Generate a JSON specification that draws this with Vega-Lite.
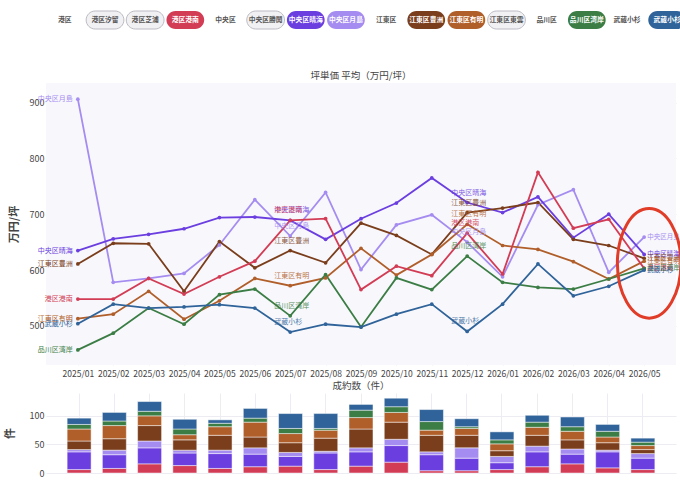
{
"$schema":"https://vega.github.io/schema/vega-lite/v6.json",
"background":"white","padding":{"left":4,"right":2,"top":8,"bottom":0},
"config":{"font":"Noto Sans CJK JP","view":{"stroke":null},"axis":{"labelColor":"#444","titleColor":"#444","labelFontSize":9,"gridColor":"#ececf2","domain":false,"ticks":false},"title":{"fontSize":9.5,"fontWeight":"normal","color":"#444","offset":3}},
"datasets":{
"chips":[
{"i":1,"t":"港区","kind":"label"},{"i":2,"t":"港区汐留","kind":"off"},{"i":3,"t":"港区芝浦","kind":"off"},{"i":4,"t":"港区港南","kind":"on","c":"#d23c55"},
{"i":5,"t":"中央区","kind":"label"},{"i":6,"t":"中央区勝鬨","kind":"off"},{"i":7,"t":"中央区晴海","kind":"on","c":"#6b3ee0"},{"i":8,"t":"中央区月島","kind":"on","c":"#a58cf0"},
{"i":9,"t":"江東区","kind":"label"},{"i":10,"t":"江東区豊洲","kind":"on","c":"#7a3e1c"},{"i":11,"t":"江東区有明","kind":"on","c":"#b05e2a"},{"i":12,"t":"江東区東雲","kind":"off"},
{"i":13,"t":"品川区","kind":"label"},{"i":14,"t":"品川区湾岸","kind":"on","c":"#3b7d45"},{"i":15,"t":"武蔵小杉","kind":"label"},{"i":16,"t":"武蔵小杉","kind":"on","c":"#2f6399"}],
"ann":[{"m":"2026/05","v":612}],
"lines":[
{"s":"中央区月島","m":"2025/01","v":906},{"s":"中央区月島","m":"2025/02","v":578},{"s":"中央区月島","m":"2025/03","v":585},{"s":"中央区月島","m":"2025/04","v":594},{"s":"中央区月島","m":"2025/05","v":645},{"s":"中央区月島","m":"2025/06","v":726},{"s":"中央区月島","m":"2025/07","v":661},{"s":"中央区月島","m":"2025/08","v":739},{"s":"中央区月島","m":"2025/09","v":601},{"s":"中央区月島","m":"2025/10","v":681},{"s":"中央区月島","m":"2025/11","v":699},{"s":"中央区月島","m":"2025/12","v":650},{"s":"中央区月島","m":"2026/01","v":588},{"s":"中央区月島","m":"2026/02","v":717},{"s":"中央区月島","m":"2026/03","v":744},{"s":"中央区月島","m":"2026/04","v":596},{"s":"中央区月島","m":"2026/05","v":659},
{"s":"中央区晴海","m":"2025/01","v":635},{"s":"中央区晴海","m":"2025/02","v":656},{"s":"中央区晴海","m":"2025/03","v":664},{"s":"中央区晴海","m":"2025/04","v":674},{"s":"中央区晴海","m":"2025/05","v":694},{"s":"中央区晴海","m":"2025/06","v":695},{"s":"中央区晴海","m":"2025/07","v":689},{"s":"中央区晴海","m":"2025/08","v":655},{"s":"中央区晴海","m":"2025/09","v":692},{"s":"中央区晴海","m":"2025/10","v":720},{"s":"中央区晴海","m":"2025/11","v":765},{"s":"中央区晴海","m":"2025/12","v":721},{"s":"中央区晴海","m":"2026/01","v":703},{"s":"中央区晴海","m":"2026/02","v":731},{"s":"中央区晴海","m":"2026/03","v":658},{"s":"中央区晴海","m":"2026/04","v":700},{"s":"中央区晴海","m":"2026/05","v":628},
{"s":"江東区豊洲","m":"2025/01","v":611},{"s":"江東区豊洲","m":"2025/02","v":648},{"s":"江東区豊洲","m":"2025/03","v":647},{"s":"江東区豊洲","m":"2025/04","v":562},{"s":"江東区豊洲","m":"2025/05","v":651},{"s":"江東区豊洲","m":"2025/06","v":604},{"s":"江東区豊洲","m":"2025/07","v":635},{"s":"江東区豊洲","m":"2025/08","v":613},{"s":"江東区豊洲","m":"2025/09","v":684},{"s":"江東区豊洲","m":"2025/10","v":662},{"s":"江東区豊洲","m":"2025/11","v":628},{"s":"江東区豊洲","m":"2025/12","v":703},{"s":"江東区豊洲","m":"2026/01","v":711},{"s":"江東区豊洲","m":"2026/02","v":721},{"s":"江東区豊洲","m":"2026/03","v":655},{"s":"江東区豊洲","m":"2026/04","v":644},{"s":"江東区豊洲","m":"2026/05","v":621},
{"s":"江東区有明","m":"2025/01","v":513},{"s":"江東区有明","m":"2025/02","v":521},{"s":"江東区有明","m":"2025/03","v":562},{"s":"江東区有明","m":"2025/04","v":512},{"s":"江東区有明","m":"2025/05","v":545},{"s":"江東区有明","m":"2025/06","v":585},{"s":"江東区有明","m":"2025/07","v":572},{"s":"江東区有明","m":"2025/08","v":586},{"s":"江東区有明","m":"2025/09","v":639},{"s":"江東区有明","m":"2025/10","v":591},{"s":"江東区有明","m":"2025/11","v":628},{"s":"江東区有明","m":"2025/12","v":682},{"s":"江東区有明","m":"2026/01","v":644},{"s":"江東区有明","m":"2026/02","v":637},{"s":"江東区有明","m":"2026/03","v":615},{"s":"江東区有明","m":"2026/04","v":584},{"s":"江東区有明","m":"2026/05","v":616},
{"s":"港区港南","m":"2025/01","v":548},{"s":"港区港南","m":"2025/02","v":548},{"s":"港区港南","m":"2025/03","v":585},{"s":"港区港南","m":"2025/04","v":557},{"s":"港区港南","m":"2025/05","v":588},{"s":"港区港南","m":"2025/06","v":616},{"s":"港区港南","m":"2025/07","v":689},{"s":"港区港南","m":"2025/08","v":692},{"s":"港区港南","m":"2025/09","v":565},{"s":"港区港南","m":"2025/10","v":607},{"s":"港区港南","m":"2025/11","v":590},{"s":"港区港南","m":"2025/12","v":666},{"s":"港区港南","m":"2026/01","v":593},{"s":"港区港南","m":"2026/02","v":775},{"s":"港区港南","m":"2026/03","v":675},{"s":"港区港南","m":"2026/04","v":691},{"s":"港区港南","m":"2026/05","v":603},
{"s":"品川区湾岸","m":"2025/01","v":457},{"s":"品川区湾岸","m":"2025/02","v":487},{"s":"品川区湾岸","m":"2025/03","v":532},{"s":"品川区湾岸","m":"2025/04","v":503},{"s":"品川区湾岸","m":"2025/05","v":556},{"s":"品川区湾岸","m":"2025/06","v":566},{"s":"品川区湾岸","m":"2025/07","v":518},{"s":"品川区湾岸","m":"2025/08","v":592},{"s":"品川区湾岸","m":"2025/09","v":498},{"s":"品川区湾岸","m":"2025/10","v":586},{"s":"品川区湾岸","m":"2025/11","v":565},{"s":"品川区湾岸","m":"2025/12","v":625},{"s":"品川区湾岸","m":"2026/01","v":578},{"s":"品川区湾岸","m":"2026/02","v":569},{"s":"品川区湾岸","m":"2026/03","v":566},{"s":"品川区湾岸","m":"2026/04","v":584},{"s":"品川区湾岸","m":"2026/05","v":603},
{"s":"武蔵小杉","m":"2025/01","v":504},{"s":"武蔵小杉","m":"2025/02","v":539},{"s":"武蔵小杉","m":"2025/03","v":532},{"s":"武蔵小杉","m":"2025/04","v":534},{"s":"武蔵小杉","m":"2025/05","v":538},{"s":"武蔵小杉","m":"2025/06","v":532},{"s":"武蔵小杉","m":"2025/07","v":489},{"s":"武蔵小杉","m":"2025/08","v":503},{"s":"武蔵小杉","m":"2025/09","v":498},{"s":"武蔵小杉","m":"2025/10","v":521},{"s":"武蔵小杉","m":"2025/11","v":539},{"s":"武蔵小杉","m":"2025/12","v":490},{"s":"武蔵小杉","m":"2026/01","v":539},{"s":"武蔵小杉","m":"2026/02","v":611},{"s":"武蔵小杉","m":"2026/03","v":554},{"s":"武蔵小杉","m":"2026/04","v":571},{"s":"武蔵小杉","m":"2026/05","v":600}],
"bars":[
{"m":"2025/01","s":"港区港南","o":1,"n":6},{"m":"2025/01","s":"中央区晴海","o":2,"n":31},{"m":"2025/01","s":"中央区月島","o":3,"n":4},{"m":"2025/01","s":"江東区豊洲","o":4,"n":15},{"m":"2025/01","s":"江東区有明","o":5,"n":21},{"m":"2025/01","s":"品川区湾岸","o":6,"n":8},{"m":"2025/01","s":"武蔵小杉","o":7,"n":11},
{"m":"2025/02","s":"港区港南","o":1,"n":8},{"m":"2025/02","s":"中央区晴海","o":2,"n":24},{"m":"2025/02","s":"中央区月島","o":3,"n":8},{"m":"2025/02","s":"江東区豊洲","o":4,"n":20},{"m":"2025/02","s":"江東区有明","o":5,"n":23},{"m":"2025/02","s":"品川区湾岸","o":6,"n":8},{"m":"2025/02","s":"武蔵小杉","o":7,"n":15},
{"m":"2025/03","s":"港区港南","o":1,"n":16},{"m":"2025/03","s":"中央区晴海","o":2,"n":28},{"m":"2025/03","s":"中央区月島","o":3,"n":12},{"m":"2025/03","s":"江東区豊洲","o":4,"n":27},{"m":"2025/03","s":"江東区有明","o":5,"n":17},{"m":"2025/03","s":"品川区湾岸","o":6,"n":8},{"m":"2025/03","s":"武蔵小杉","o":7,"n":17},
{"m":"2025/04","s":"港区港南","o":1,"n":13},{"m":"2025/04","s":"中央区晴海","o":2,"n":22},{"m":"2025/04","s":"中央区月島","o":3,"n":5},{"m":"2025/04","s":"江東区豊洲","o":4,"n":18},{"m":"2025/04","s":"江東区有明","o":5,"n":9},{"m":"2025/04","s":"品川区湾岸","o":6,"n":10},{"m":"2025/04","s":"武蔵小杉","o":7,"n":17},
{"m":"2025/05","s":"港区港南","o":1,"n":8},{"m":"2025/05","s":"中央区晴海","o":2,"n":26},{"m":"2025/05","s":"中央区月島","o":3,"n":6},{"m":"2025/05","s":"江東区豊洲","o":4,"n":26},{"m":"2025/05","s":"江東区有明","o":5,"n":15},{"m":"2025/05","s":"品川区湾岸","o":6,"n":6},{"m":"2025/05","s":"武蔵小杉","o":7,"n":6},
{"m":"2025/06","s":"港区港南","o":1,"n":11},{"m":"2025/06","s":"中央区晴海","o":2,"n":22},{"m":"2025/06","s":"中央区月島","o":3,"n":11},{"m":"2025/06","s":"江東区豊洲","o":4,"n":19},{"m":"2025/06","s":"江東区有明","o":5,"n":26},{"m":"2025/06","s":"品川区湾岸","o":6,"n":7},{"m":"2025/06","s":"武蔵小杉","o":7,"n":17},
{"m":"2025/07","s":"港区港南","o":1,"n":12},{"m":"2025/07","s":"中央区晴海","o":2,"n":17},{"m":"2025/07","s":"中央区月島","o":3,"n":7},{"m":"2025/07","s":"江東区豊洲","o":4,"n":17},{"m":"2025/07","s":"江東区有明","o":5,"n":16},{"m":"2025/07","s":"品川区湾岸","o":6,"n":9},{"m":"2025/07","s":"武蔵小杉","o":7,"n":26},
{"m":"2025/08","s":"港区港南","o":1,"n":6},{"m":"2025/08","s":"中央区晴海","o":2,"n":29},{"m":"2025/08","s":"中央区月島","o":3,"n":3},{"m":"2025/08","s":"江東区豊洲","o":4,"n":23},{"m":"2025/08","s":"江東区有明","o":5,"n":14},{"m":"2025/08","s":"品川区湾岸","o":6,"n":3},{"m":"2025/08","s":"武蔵小杉","o":7,"n":26},
{"m":"2025/09","s":"港区港南","o":1,"n":12},{"m":"2025/09","s":"中央区晴海","o":2,"n":25},{"m":"2025/09","s":"中央区月島","o":3,"n":7},{"m":"2025/09","s":"江東区豊洲","o":4,"n":33},{"m":"2025/09","s":"江東区有明","o":5,"n":20},{"m":"2025/09","s":"品川区湾岸","o":6,"n":13},{"m":"2025/09","s":"武蔵小杉","o":7,"n":10},
{"m":"2025/10","s":"港区港南","o":1,"n":19},{"m":"2025/10","s":"中央区晴海","o":2,"n":29},{"m":"2025/10","s":"中央区月島","o":3,"n":11},{"m":"2025/10","s":"江東区豊洲","o":4,"n":30},{"m":"2025/10","s":"江東区有明","o":5,"n":17},{"m":"2025/10","s":"品川区湾岸","o":6,"n":10},{"m":"2025/10","s":"武蔵小杉","o":7,"n":15},
{"m":"2025/11","s":"港区港南","o":1,"n":4},{"m":"2025/11","s":"中央区晴海","o":2,"n":28},{"m":"2025/11","s":"中央区月島","o":3,"n":5},{"m":"2025/11","s":"江東区豊洲","o":4,"n":29},{"m":"2025/11","s":"江東区有明","o":5,"n":9},{"m":"2025/11","s":"品川区湾岸","o":6,"n":15},{"m":"2025/11","s":"武蔵小杉","o":7,"n":21},
{"m":"2025/12","s":"港区港南","o":1,"n":4},{"m":"2025/12","s":"中央区晴海","o":2,"n":22},{"m":"2025/12","s":"中央区月島","o":3,"n":18},{"m":"2025/12","s":"江東区豊洲","o":4,"n":22},{"m":"2025/12","s":"江東区有明","o":5,"n":12},{"m":"2025/12","s":"品川区湾岸","o":6,"n":3},{"m":"2025/12","s":"武蔵小杉","o":7,"n":14},
{"m":"2026/01","s":"港区港南","o":1,"n":6},{"m":"2026/01","s":"中央区晴海","o":2,"n":12},{"m":"2026/01","s":"中央区月島","o":3,"n":11},{"m":"2026/01","s":"江東区豊洲","o":4,"n":10},{"m":"2026/01","s":"江東区有明","o":5,"n":12},{"m":"2026/01","s":"品川区湾岸","o":6,"n":7},{"m":"2026/01","s":"武蔵小杉","o":7,"n":14},
{"m":"2026/02","s":"港区港南","o":1,"n":11},{"m":"2026/02","s":"中央区晴海","o":2,"n":26},{"m":"2026/02","s":"中央区月島","o":3,"n":10},{"m":"2026/02","s":"江東区豊洲","o":4,"n":19},{"m":"2026/02","s":"江東区有明","o":5,"n":14},{"m":"2026/02","s":"品川区湾岸","o":6,"n":9},{"m":"2026/02","s":"武蔵小杉","o":7,"n":12},
{"m":"2026/03","s":"港区港南","o":1,"n":16},{"m":"2026/03","s":"中央区晴海","o":2,"n":17},{"m":"2026/03","s":"中央区月島","o":3,"n":9},{"m":"2026/03","s":"江東区豊洲","o":4,"n":16},{"m":"2026/03","s":"江東区有明","o":5,"n":15},{"m":"2026/03","s":"品川区湾岸","o":6,"n":8},{"m":"2026/03","s":"武蔵小杉","o":7,"n":17},
{"m":"2026/04","s":"港区港南","o":1,"n":9},{"m":"2026/04","s":"中央区晴海","o":2,"n":28},{"m":"2026/04","s":"中央区月島","o":3,"n":3},{"m":"2026/04","s":"江東区豊洲","o":4,"n":13},{"m":"2026/04","s":"江東区有明","o":5,"n":10},{"m":"2026/04","s":"品川区湾岸","o":6,"n":10},{"m":"2026/04","s":"武蔵小杉","o":7,"n":12},
{"m":"2026/05","s":"港区港南","o":1,"n":6},{"m":"2026/05","s":"中央区晴海","o":2,"n":20},{"m":"2026/05","s":"中央区月島","o":3,"n":8},{"m":"2026/05","s":"江東区豊洲","o":4,"n":7},{"m":"2026/05","s":"江東区有明","o":5,"n":7},{"m":"2026/05","s":"品川区湾岸","o":6,"n":6},{"m":"2026/05","s":"武蔵小杉","o":7,"n":7}]
},
"spacing":38,
"vconcat":[
{"width":640,"height":24,"data":{"name":"chips"},
 "encoding":{"x":{"field":"i","type":"ordinal","axis":null,"scale":{"paddingInner":0.06,"paddingOuter":0}}},
 "layer":[
  {"mark":{"type":"rect","cornerRadius":9,"strokeWidth":1,"fill":"#f1f1f4","stroke":"#bbbbc4"},"transform":[{"filter":"datum.kind=='off'"}],"encoding":{"y":{"value":3},"y2":{"value":21}}},
  {"mark":{"type":"rect","cornerRadius":9},"transform":[{"filter":"datum.kind=='on'"}],
   "encoding":{"y":{"value":3},"y2":{"value":21},"fill":{"field":"c","type":"nominal","scale":null,"legend":null}}},
  {"mark":{"type":"text","fontSize":6.8,"fontWeight":"bold","color":"#555555","baseline":"middle"},"transform":[{"filter":"datum.kind!='on'"}],"encoding":{"y":{"value":12},"text":{"field":"t"}}},
  {"mark":{"type":"text","fontSize":6.8,"fontWeight":"bold","color":"white","baseline":"middle"},"transform":[{"filter":"datum.kind=='on'"}],"encoding":{"y":{"value":12},"text":{"field":"t","type":"nominal"}}}
 ]},
{"spacing":2,"vconcat":[
{"width":630,"height":282,"title":"坪単価 平均（万円/坪）","data":{"name":"lines"},
 "encoding":{"x":{"field":"m","type":"ordinal","title":null,"scale":{"type":"point","padding":0.9},"axis":{"labelAngle":0,"grid":true,"labelFontSize":8.5,"labelPadding":4}},
  "y":{"field":"v","type":"quantitative","title":"万円/坪","scale":{"domain":[430,935],"nice":false,"zero":false},"axis":{"values":[500,600,700,800,900],"titlePadding":10}},
  "color":{"field":"s","type":"nominal","legend":null,"scale":{"domain":["港区港南","中央区晴海","中央区月島","江東区豊洲","江東区有明","品川区湾岸","武蔵小杉"],"range":["#d23c55","#6b3ee0","#a58cf0","#7a3e1c","#b05e2a","#3b7d45","#2f6399"]}}},
 "layer":[
  {"mark":{"type":"rect","color":"#f8f8fc"},"encoding":{"x":null,"y":null,"color":null}},
  {"mark":{"type":"line","strokeWidth":1.8,"point":{"size":14}}},
  {"transform":[{"filter":"datum.m=='2025/01'"}],"mark":{"type":"text","align":"right","dx":-5,"fontSize":7}, "encoding":{"text":{"field":"s"}}},
  {"transform":[{"filter":"datum.m=='2026/05'"}],"mark":{"type":"text","align":"left","dx":3,"fontSize":6.5}, "encoding":{"text":{"field":"s"}}},
  {"transform":[{"filter":"datum.m=='2025/07' || datum.m=='2025/12'"}],"mark":{"type":"text","align":"left","dx":-16,"dy":-10,"fontSize":7,"opacity":0.85}, "encoding":{"text":{"field":"s"}}},
  {"data":{"name":"ann"},"mark":{"type":"point","shape":"M0,-1A0.58,1 0 1,1 0,1A0.58,1 0 1,1 0,-1Z","size":12000,"stroke":"#e03c28","strokeWidth":3,"filled":false,"opacity":1,"xOffset":5,"clip":false},"encoding":{"color":null}}
 ]},
{"width":630,"height":80,"title":"成約数（件）","data":{"name":"bars"},
 "mark":{"type":"bar","stroke":"white","strokeWidth":0.8,"strokeOpacity":0.6},
 "encoding":{"x":{"field":"m","type":"ordinal","title":null,"scale":{"paddingInner":0.32,"paddingOuter":0.6},"axis":{"labels":false,"grid":true}},
  "y":{"field":"n","type":"quantitative","aggregate":"sum","title":"件","axis":{"values":[0,50,100],"titlePadding":14}},
  "order":{"field":"o","type":"quantitative","sort":"ascending"},
  "color":{"field":"s","type":"nominal","legend":null,"scale":{"domain":["港区港南","中央区晴海","中央区月島","江東区豊洲","江東区有明","品川区湾岸","武蔵小杉"],"range":["#d6445c","#7c48e6","#ac96f2","#8b4a26","#b5632e","#3f8049","#3469a0"]}}}}
]}]
}
